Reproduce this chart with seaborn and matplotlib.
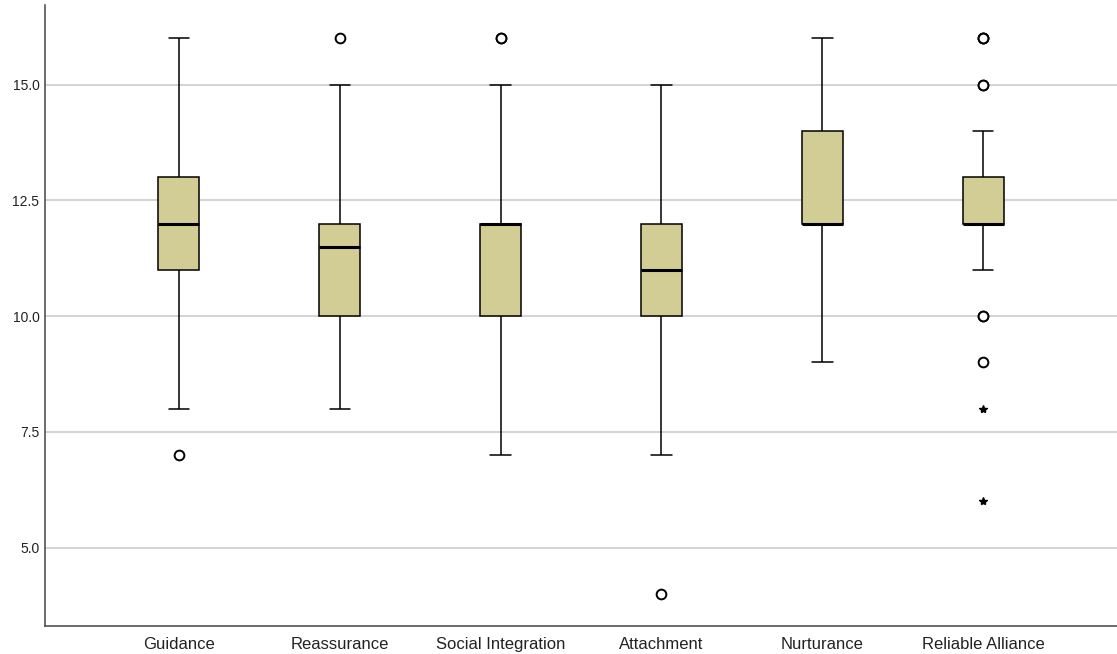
import numpy as np
import pandas as pd
import matplotlib.pyplot as plt
import seaborn as sns
from matplotlib.ticker import FormatStrFormatter

sns.set_theme(style='white')
plt.rcParams['font.family'] = ['Liberation Sans Narrow', 'Liberation Sans', 'DejaVu Sans']

# subscale scores, read back from the box summaries (quartiles, whiskers, outliers)
scales = ['Guidance', 'Reassurance', 'Social Integration', 'Attachment',
          'Nurturance', 'Reliable Alliance']
guidance = [7, 8, 11, 11, 12, 12, 13, 14, 16]
reassurance = [8, 9, 10, 10, 11, 12, 12, 12, 15, 16]
social_integration = [7, 9, 10, 10, 11, 12, 12, 12, 12, 12, 15, 16, 16]
attachment = [4, 7, 10, 10, 11, 11, 12, 13, 15]
nurturance = [9, 11, 12, 12, 12, 13, 14, 15, 16]
reliable_alliance = [6, 8, 9, 10, 10, 11, 12, 12, 12, 12, 12, 12, 12,
                     13, 13, 13, 13, 13, 13, 14, 15, 15, 16, 16, 16]
yticks = [5.0, 7.5, 10.0, 12.5, 15.0]

scores = [guidance, reassurance, social_integration, attachment,
          nurturance, reliable_alliance]
df = pd.DataFrame({
    'scale': [s for s, v in zip(scales, scores) for _ in v],
    'score': [x for v in scores for x in v],
})

box_color = '#d2cc95'

fig = plt.figure(figsize=(11.17, 6.54), dpi=100)
ax = fig.add_axes([0.0403, 0.0428, 0.9597, 0.949])

sns.boxplot(data=df, x='scale', y='score', order=scales, width=0.25,
            color=box_color, saturation=1, linecolor='black', linewidth=1.1,
            showfliers=False, medianprops={'linewidth': 2.2}, ax=ax)

# SPSS style: circles beyond 1.5 IQR, stars beyond 3 IQR
for i, v in enumerate(scores):
    v = np.array(v)
    q1, q3 = np.percentile(v, [25, 75])
    iqr = q3 - q1
    extreme = v[(v < q1 - 3 * iqr) | (v > q3 + 3 * iqr)]
    mild = v[((v < q1 - 1.5 * iqr) | (v > q3 + 1.5 * iqr))
             & ~np.isin(v, extreme)]
    ax.plot(np.full(len(mild), i), mild, 'o', mfc='white', mec='black',
            ms=7, mew=1.4, zorder=4)
    ax.plot(np.full(len(extreme), i), extreme, '*', color='black',
            ms=6, zorder=4)

ax.set_xlim(-0.83, 5.83)
ax.set_ylim(3.31, 16.71)
ax.set_yticks(yticks)
ax.yaxis.set_major_formatter(FormatStrFormatter('%.1f'))
ax.yaxis.grid(True, color='#c8c8c8', linewidth=1.1)
ax.set_axisbelow(True)
ax.set_xlabel('')
ax.set_ylabel('')

ax.tick_params(axis='x', labelsize=12, length=0, pad=8, colors='#222222')
ax.tick_params(axis='y', labelsize=10, length=0, pad=4, colors='#222222')
for lab in ax.get_yticklabels():
    lab.set_family(['Liberation Sans', 'DejaVu Sans'])

for side in ['top', 'right']:
    ax.spines[side].set_visible(False)
for side in ['left', 'bottom']:
    ax.spines[side].set_color('#444444')
    ax.spines[side].set_linewidth(1.1)

fig.savefig('out.png', dpi=100)
